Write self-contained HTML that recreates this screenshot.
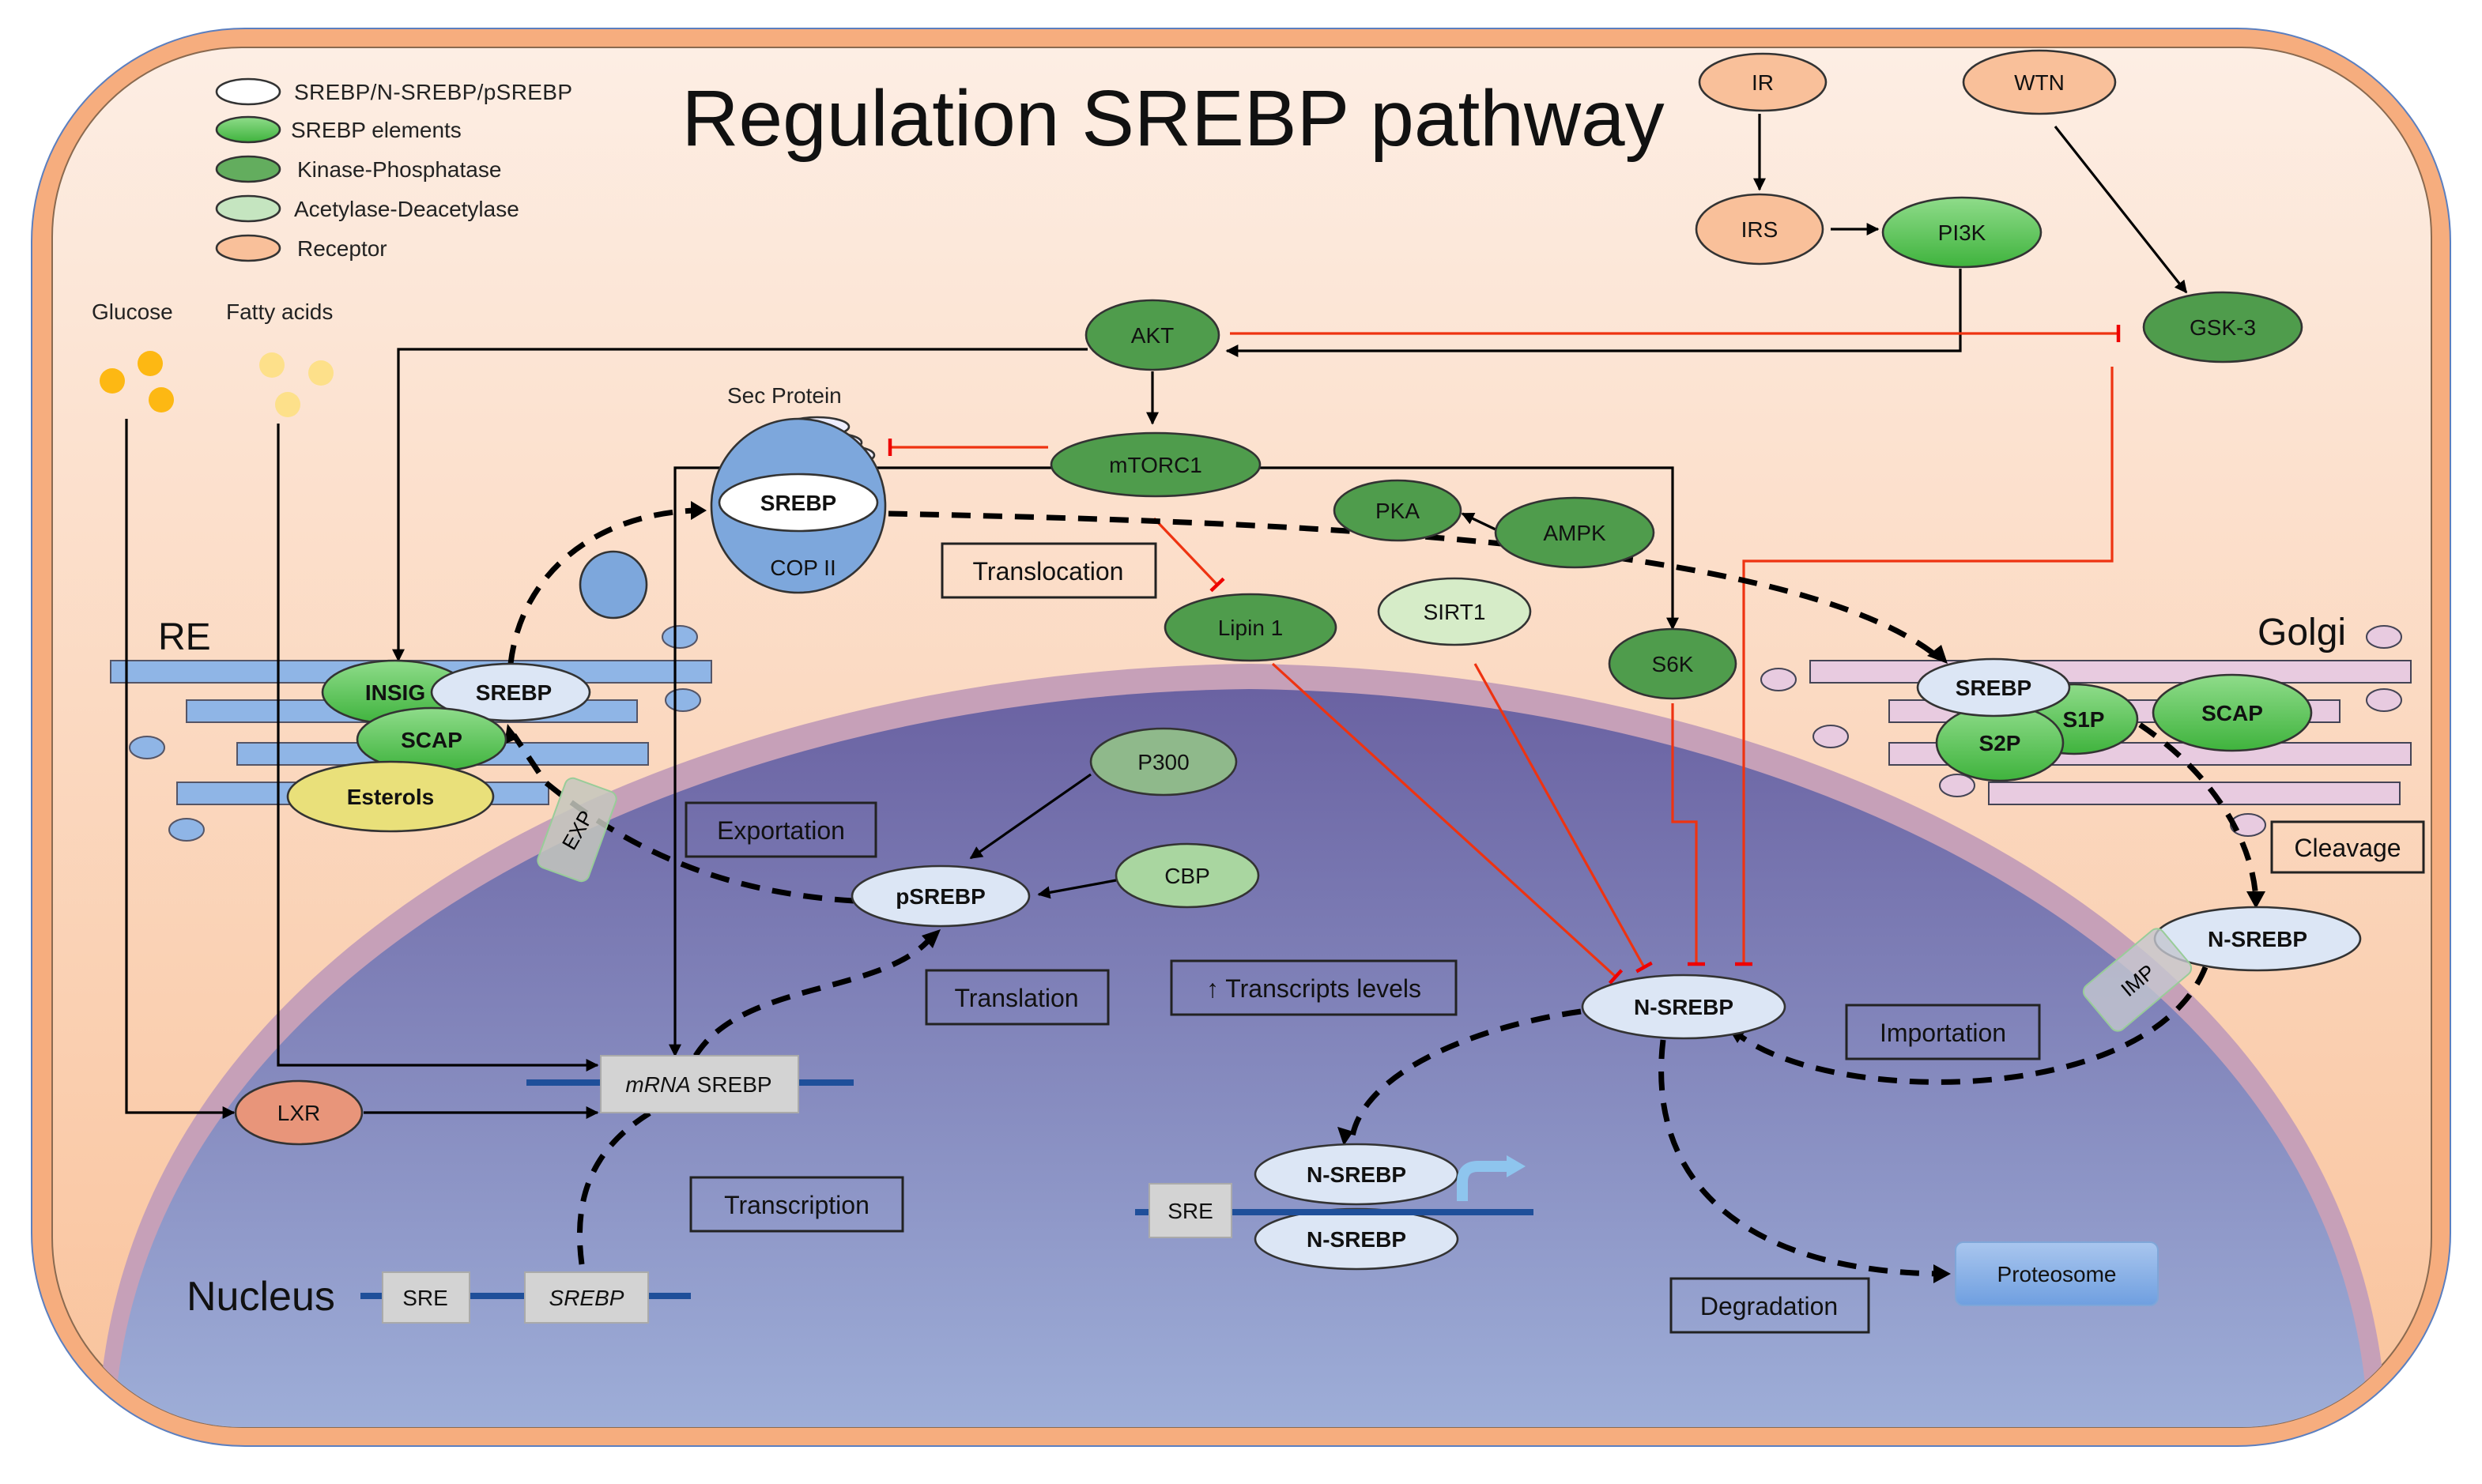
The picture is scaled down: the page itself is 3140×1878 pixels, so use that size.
<!DOCTYPE html>
<html><head><meta charset="utf-8"><style>
html,body{margin:0;padding:0;background:#fff;}
svg{display:block;}
text{font-family:"Liberation Sans",sans-serif;}
</style></head><body>
<svg width="3140" height="1878" viewBox="0 0 1570 939" xmlns="http://www.w3.org/2000/svg">
<defs>
<linearGradient id="cyt" x1="0" y1="0" x2="0" y2="1"><stop offset="0" stop-color="#fdeee4"/><stop offset="1" stop-color="#f9c39c"/></linearGradient>
<linearGradient id="nuc" x1="0" y1="0" x2="0" y2="1"><stop offset="0" stop-color="#6a62a2"/><stop offset="1" stop-color="#9eaed8"/></linearGradient>
<linearGradient id="g1" x1="0" y1="0" x2="0" y2="1"><stop offset="0" stop-color="#8fdc8a"/><stop offset="1" stop-color="#3fb33d"/></linearGradient>
<linearGradient id="prot" x1="0" y1="0" x2="0" y2="1"><stop offset="0" stop-color="#a9c6ee"/><stop offset="1" stop-color="#6f9fe0"/></linearGradient>
<clipPath id="inner"><rect x="33" y="30" width="1505" height="873" rx="120"/></clipPath>
<marker id="ah" viewBox="0 0 10 10" refX="9" refY="5" markerWidth="5" markerHeight="5" orient="auto"><path d="M0,0L10,5L0,10z" fill="#000"/></marker>
<marker id="tb" viewBox="0 0 10 10" refX="5" refY="5" markerWidth="7" markerHeight="7" orient="auto"><path d="M5,0V10" stroke="#e00" stroke-width="2"/></marker>
</defs>
<rect x="20" y="18" width="1530" height="897" rx="135" fill="#f6ad7e" stroke="#5b7fc0" stroke-width="1"/>
<rect x="33" y="30" width="1505" height="873" rx="120" fill="url(#cyt)" stroke="#8a6a50" stroke-width="1"/>
<g clip-path="url(#inner)">
<path d="M62,905 C70,600 420,425 790,420 C1160,425 1500,600 1510,905 Z" fill="#c6a0b8"/>
<path d="M72,905 C82,615 430,440 790,436 C1150,440 1490,615 1498,905 Z" fill="url(#nuc)"/>
</g>
<text x="742" y="92" font-size="50" text-anchor="middle" fill="#111">Regulation SREBP pathway</text>
<g stroke="#333" stroke-width="1.3" font-size="14">
<ellipse cx="157" cy="58" rx="20" ry="8" fill="#fff"/>
<ellipse cx="157" cy="82" rx="20" ry="8" fill="url(#g1)"/>
<ellipse cx="157" cy="107" rx="20" ry="8" fill="#63ad5e"/>
<ellipse cx="157" cy="132" rx="20" ry="8" fill="#c5e5c0"/>
<ellipse cx="157" cy="157" rx="20" ry="8" fill="#f9c09a"/>
</g>
<g font-size="14" fill="#222">
<text x="186" y="63" textLength="176">SREBP/N-SREBP/pSREBP</text><text x="184" y="87">SREBP elements</text>
<text x="188" y="112">Kinase-Phosphatase</text><text x="186" y="137">Acetylase-Deacetylase</text><text x="188" y="162">Receptor</text>
<text x="58" y="202">Glucose</text><text x="143" y="202">Fatty acids</text>
<text x="460" y="255">Sec Protein</text>
</g>
<g fill="#fdb813"><circle cx="71" cy="241" r="8"/><circle cx="95" cy="230" r="8"/><circle cx="102" cy="253" r="8"/></g>
<g fill="#fde08a"><circle cx="172" cy="231" r="8"/><circle cx="203" cy="236" r="8"/><circle cx="182" cy="256" r="8"/></g>
<g fill="#8fb5e6" stroke="#556" stroke-width="1">
<rect x="70" y="418" width="380" height="14"/><rect x="118" y="443" width="285" height="14"/>
<rect x="150" y="470" width="260" height="14"/><rect x="112" y="495" width="235" height="14"/>
<ellipse cx="430" cy="403" rx="11" ry="7"/><ellipse cx="432" cy="443" rx="11" ry="7"/><ellipse cx="93" cy="473" rx="11" ry="7"/><ellipse cx="118" cy="525" rx="11" ry="7"/>
</g>
<g fill="#e8cbe0" stroke="#445" stroke-width="1">
<rect x="1145" y="418" width="380" height="14"/><rect x="1195" y="443" width="285" height="14"/>
<rect x="1195" y="470" width="330" height="14"/><rect x="1258" y="495" width="260" height="14"/>
<ellipse cx="1508" cy="403" rx="11" ry="7"/><ellipse cx="1125" cy="430" rx="11" ry="7"/><ellipse cx="1508" cy="443" rx="11" ry="7"/><ellipse cx="1158" cy="466" rx="11" ry="7"/><ellipse cx="1238" cy="497" rx="11" ry="7"/><ellipse cx="1422" cy="522" rx="11" ry="7"/>
</g>
<text x="100" y="411" font-size="24" fill="#111">RE</text>
<text x="1428" y="408" font-size="24" fill="#111">Golgi</text>
<g stroke="#000" stroke-width="1.6" fill="none" marker-end="url(#ah)">
<path d="M1113,72V120"/><path d="M1158,145H1188"/><path d="M1300,80L1383,185"/>
<path d="M1240,170V222H776"/><path d="M729,235V268"/>
<path d="M688,221H252V418"/>
<path d="M665,296H427V668"/><path d="M797,296H1058V398"/>
<path d="M946,335L925,325"/>
<path d="M80,265V704H148"/><path d="M176,268V674H378"/><path d="M230,704H378"/>
<path d="M690,490L614,543"/><path d="M706,557L657,566"/>
</g>
<g stroke="#e31" stroke-width="1.6" fill="none" marker-end="url(#tb)">
<path d="M778,211H1340"/><path d="M663,283H563"/><path d="M730,328L770,370"/>
<path d="M1336,232V355H1103V610"/><path d="M1058,445V520H1073V610"/>
<path d="M805,420L1022,618"/><path d="M933,420L1040,612"/>
</g>
<g stroke="#000" stroke-width="3.5" fill="none" stroke-dasharray="12,8">
<path d="M323,420C330,360 380,325 440,323"/>
<path d="M562,325C800,330 1130,340 1225,415"/>
<path d="M1300,432C1380,460 1425,520 1427,570"/>
<path d="M1395,612C1360,700 1160,700 1100,655"/>
<path d="M1000,640C930,650 860,680 855,722"/>
<path d="M1052,658C1040,760 1120,805 1228,806"/>
<path d="M540,570C460,565 400,540 345,495 L325,465"/>
<path d="M368,800C360,740 390,710 440,690"/>
<path d="M440,668C470,620 560,630 590,592"/>
</g>
<g fill="#000">
<path d="M447,323l-10,-6v12z"/><path d="M1232,420l-4,-12-9,7z"/><path d="M1427,575l-6,-11h12z"/>
<path d="M1093,650l12,1-6,9z"/><path d="M850,725l-4,-12 10,3z"/><path d="M1234,806l-11,-6v12z"/>
<path d="M321,458l-2,13 9,-4z"/><path d="M595,588l-12,4 7,8z"/>
</g>
<g stroke="#333" stroke-width="1.3">
<ellipse cx="1115" cy="52" rx="40" ry="18" fill="#f9c09a"/>
<ellipse cx="1290" cy="52" rx="48" ry="20" fill="#f9c09a"/>
<ellipse cx="1113" cy="145" rx="40" ry="22" fill="#f9c09a"/>
<ellipse cx="1241" cy="147" rx="50" ry="22" fill="url(#g1)"/>
<ellipse cx="1406" cy="207" rx="50" ry="22" fill="#4f9c4c"/>
<ellipse cx="729" cy="212" rx="42" ry="22" fill="#4f9c4c"/>
<ellipse cx="731" cy="294" rx="66" ry="20" fill="#4f9c4c"/>
<ellipse cx="884" cy="323" rx="40" ry="19" fill="#4f9c4c"/>
<ellipse cx="996" cy="337" rx="50" ry="22" fill="#4f9c4c"/>
<ellipse cx="791" cy="397" rx="54" ry="21" fill="#4f9c4c"/>
<ellipse cx="920" cy="387" rx="48" ry="21" fill="#d6ecc8"/>
<ellipse cx="1058" cy="420" rx="40" ry="22" fill="#4f9c4c"/>
<ellipse cx="736" cy="482" rx="46" ry="21" fill="#8fb98b"/>
<ellipse cx="751" cy="554" rx="45" ry="20" fill="#a9d6a0"/>
<ellipse cx="517" cy="270" rx="20" ry="6" fill="#eef"/><ellipse cx="525" cy="280" rx="20" ry="6" fill="#eef"/><ellipse cx="533" cy="288" rx="20" ry="6" fill="#eef"/>
<circle cx="505" cy="320" r="55" fill="#7da7dc"/>
<ellipse cx="505" cy="318" rx="50" ry="18" fill="#fff"/>
<circle cx="388" cy="370" r="21" fill="#7da7dc"/>
<ellipse cx="250" cy="438" rx="46" ry="20" fill="url(#g1)"/>
<ellipse cx="323" cy="438" rx="50" ry="18" fill="#dce6f5"/>
<ellipse cx="273" cy="468" rx="47" ry="20" fill="url(#g1)"/>
<ellipse cx="247" cy="504" rx="65" ry="22" fill="#e9e07a"/>
<ellipse cx="1312" cy="455" rx="40" ry="22" fill="url(#g1)"/>
<ellipse cx="1412" cy="451" rx="50" ry="24" fill="url(#g1)"/>
<ellipse cx="1265" cy="470" rx="40" ry="24" fill="url(#g1)"/>
<ellipse cx="1261" cy="435" rx="48" ry="18" fill="#dce6f5"/>
<ellipse cx="1428" cy="594" rx="65" ry="20" fill="#dce6f5"/>
<ellipse cx="1065" cy="637" rx="64" ry="20" fill="#dce6f5"/>
<ellipse cx="595" cy="567" rx="56" ry="19" fill="#dce6f5"/>
<ellipse cx="189" cy="704" rx="40" ry="20" fill="#e8957a"/>
<ellipse cx="858" cy="784" rx="64" ry="19" fill="#dce6f5"/>
<ellipse cx="858" cy="743" rx="64" ry="19" fill="#dce6f5"/>
</g>
<g transform="translate(365,525) rotate(20)"><rect x="-17" y="-30" width="34" height="60" rx="5" fill="#c4c7bd" fill-opacity="0.85" stroke="#9c9"/><text x="0" y="5" font-size="13" text-anchor="middle" transform="rotate(-80)">EXP</text></g>
<g transform="translate(1352,620) rotate(50)"><rect x="-18" y="-32" width="36" height="64" rx="5" fill="#c4c7cf" fill-opacity="0.8" stroke="#9c9"/><text x="0" y="5" font-size="13" text-anchor="middle" transform="rotate(-90)">IMP</text></g>
<g stroke="#1f4f9a" stroke-width="4"><path d="M333,685H540"/><path d="M228,820H437"/><path d="M718,767H970"/></g>
<g fill="#d3d3d3" stroke="#aaa"><rect x="380" y="668" width="125" height="36"/><rect x="242" y="805" width="55" height="32"/><rect x="332" y="805" width="78" height="32"/><rect x="727" y="749" width="52" height="34"/></g>
<path d="M925,760V748Q925,738 935,738H955" stroke="#8ec5ee" stroke-width="7" fill="none"/><path d="M953,731l12,7-12,7z" fill="#8ec5ee"/>
<rect x="1237" y="786" width="128" height="40" rx="5" fill="url(#prot)" stroke="#7fa6d8"/>
<g fill="none" stroke="#222" stroke-width="1.5">
<rect x="596" y="344" width="135" height="34"/><rect x="434" y="508" width="120" height="34"/>
<rect x="586" y="614" width="115" height="34"/><rect x="741" y="608" width="180" height="34"/>
<rect x="1168" y="636" width="122" height="34"/><rect x="437" y="745" width="134" height="34"/>
<rect x="1057" y="809" width="125" height="34"/><rect x="1437" y="520" width="96" height="32"/>
</g>
<g font-size="16" fill="#111" text-anchor="middle">
<text x="663" y="367">Translocation</text><text x="494" y="531">Exportation</text>
<text x="643" y="637">Translation</text><text x="831" y="631">↑ Transcripts levels</text>
<text x="1229" y="659">Importation</text><text x="504" y="768">Transcription</text>
<text x="1119" y="832">Degradation</text><text x="1485" y="542">Cleavage</text>
</g>
<g font-size="14" fill="#111" text-anchor="middle">
<text x="1115" y="57">IR</text><text x="1290" y="57">WTN</text><text x="1113" y="150">IRS</text>
<text x="1241" y="152">PI3K</text><text x="1406" y="212">GSK-3</text><text x="729" y="217">AKT</text>
<text x="731" y="299">mTORC1</text><text x="884" y="328">PKA</text><text x="996" y="342">AMPK</text>
<text x="791" y="402">Lipin 1</text><text x="920" y="392">SIRT1</text><text x="1058" y="425">S6K</text>
<text x="736" y="487">P300</text><text x="751" y="559">CBP</text>
<text x="505" y="323" font-weight="bold">SREBP</text><text x="508" y="364">COP II</text>
<text x="250" y="443" font-weight="bold">INSIG</text><text x="325" y="443" font-weight="bold">SREBP</text>
<text x="273" y="473" font-weight="bold">SCAP</text><text x="247" y="509" font-weight="bold">Esterols</text>
<text x="1261" y="440" font-weight="bold">SREBP</text><text x="1412" y="456" font-weight="bold">SCAP</text>
<text x="1318" y="460" font-weight="bold">S1P</text><text x="1265" y="475" font-weight="bold">S2P</text>
<text x="1428" y="599" font-weight="bold">N-SREBP</text><text x="1065" y="642" font-weight="bold">N-SREBP</text>
<text x="595" y="572" font-weight="bold">pSREBP</text>
<text x="858" y="748" font-weight="bold">N-SREBP</text><text x="858" y="789" font-weight="bold">N-SREBP</text>
<text x="189" y="709">LXR</text>
<text x="442" y="691"><tspan font-style="italic">mRNA</tspan> SREBP</text>
<text x="269" y="826">SRE</text><text x="371" y="826" font-style="italic">SREBP</text><text x="753" y="771">SRE</text>
<text x="1301" y="811">Proteosome</text>
</g>
<text x="118" y="829" font-size="26" fill="#111">Nucleus</text>
</svg>
</body></html>
